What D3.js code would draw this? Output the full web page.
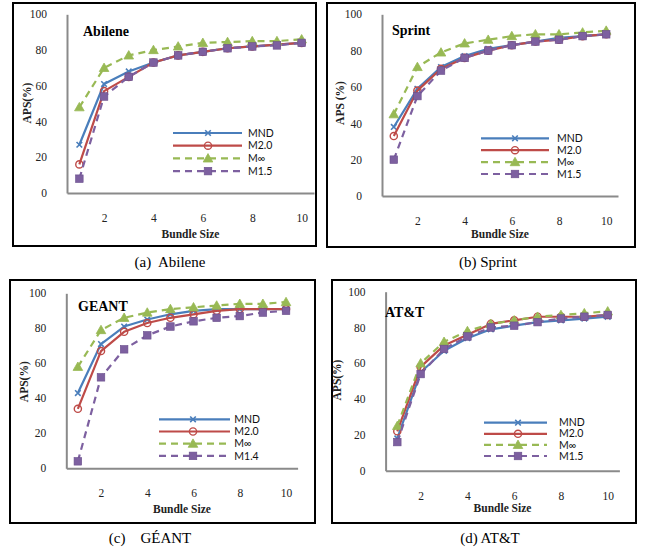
<!DOCTYPE html>
<html><head><meta charset="utf-8">
<script src="https://cdn.jsdelivr.net/npm/d3@7"></script>
<style>
html,body{margin:0;padding:0;background:#fff;}
svg{display:block;}
</style></head>
<body>
<svg id="chart" width="652" height="552"></svg>
<script>
// ---- data ----
const bundleSizes = [1,2,3,4,5,6,7,8,9,10];
const xTickLabels = [2,4,6,8,10];
const yTickLabels = [0,20,40,60,80,100];
const panelNames = ["Abilene","Sprint","GEANT","AT&T"];
const captions = ["(a)  Abilene","(b) Sprint","(c)    GÉANT","(d) AT&T"];
const seriesNamesStd = ["MND","M2.0","M\u221E","M1.5"];
const seriesNamesGeant = ["MND","M2.0","M\u221E","M1.4"];

const abileneMND  = [27,61,68,73,77,79,81,82,83,84];
const abileneM20  = [16,57,65,73,77,79,81,82,83,84];
const abileneMinf = [48,70,77,80,82,84,84.5,85,85,86];
const abileneM15  = [8,54,65,73,77,79,81,82,82.6,84];

const sprintMND  = [38,59,71,77,81,83,85,87,88,89];
const sprintM20  = [33,58,70,76,80,83,85,86,88,89];
const sprintMinf = [45,71,79,84,86,88,89,89,90,91];
const sprintM15  = [20,55,69,76,80,83,85,86,88,89];

const geantMND  = [43,71,81,85,88,90,91,91,91,91];
const geantM20  = [34,67,78,83,86,88,90,91,91,91];
const geantMinf = [58,79,86,89,91,92,93,94,94,95];
const geantM14  = [4,52,68,76,81,84,86,87,89,90];

const attMND  = [18,55,67,74,79,81,83,84,85,86];
const attM20  = [22,58,70,76,82,84,86,86,86,87];
const attMinf = [25,60,72,78,82,84,86,87,88,89];
const attM15  = [16,54,68,75,80,81,83,85,86,87];

const panelSeries = [
  [abileneMND, abileneM20, abileneMinf, abileneM15],
  [sprintMND, sprintM20, sprintMinf, sprintM15],
  [geantMND, geantM20, geantMinf, geantM14],
  [attMND, attM20, attMinf, attM15]
];
const panelLegends = [seriesNamesStd, seriesNamesStd, seriesNamesGeant, seriesNamesStd];
const yAxisTitles = ["APS(%)","APS (%)","APS(%)","APS(%)"];

// ---- layout / style ----
const layouts = [
  {frame:[13,3,303,243], xL:67, xR:314, y100:14.3, y0:193, title:[83,31], leg:{x1:173,x2:242,m:208,y:133,dy:12.7,tx:248}, yl:[27,103], xly:234, cap:[170,262]},
  {frame:[327,3,308,244], xL:382, xR:618, y100:14.3, y0:196, title:[392,30], leg:{x1:481,x2:549,m:515,y:138.3,dy:11.9,tx:557}, yl:[340,103], xly:234, cap:[488,262]},
  {frame:[10,280,305,243], xL:66.3, xR:297.6, y100:293.3, y0:468.3, title:[78,305.7], leg:{x1:159,x2:230,m:193,y:419.3,dy:12.2,tx:234.3}, yl:[24.3,381.7], xly:509.3, cap:[150,538]},
  {frame:[332,280,304,243], xL:385.6, xR:619.4, y100:291.7, y0:470.7, title:[385,312.3], leg:{x1:484,x2:547,m:518,y:422.7,dy:11.1,tx:559}, yl:[336.7,380], xly:508.3, cap:[490,538]}
];
const colors = ["#4A7EBB","#BE4B48","#98B954","#7D60A0"];
const dashes = [null,null,"7,5","7,5"];

const svg = d3.select("#chart");
const serif = "'Liberation Serif','Times New Roman',serif";
const sans = "Lato,'Liberation Sans',sans-serif";

function drawMarker(g, type, x, y, color) {
  if (type === 0) {
    const s = 2.8;
    g.append("path").attr("d", `M${x-s},${y-s}L${x+s},${y+s}M${x-s},${y+s}L${x+s},${y-s}`)
      .attr("stroke", color).attr("stroke-width", 1.6).attr("fill","none");
  } else if (type === 1) {
    g.append("circle").attr("cx", x).attr("cy", y).attr("r", 3.6)
      .attr("stroke", color).attr("stroke-width", 1.4).attr("fill","none");
  } else if (type === 2) {
    const s = 4.8;
    g.append("path").attr("d", `M${x},${y-s}L${x+s},${y+s*0.75}L${x-s},${y+s*0.75}Z`)
      .attr("fill", color).attr("stroke", color).attr("stroke-width", 0.8);
  } else {
    const s = 3.8;
    g.append("rect").attr("x", x-s).attr("y", y-s).attr("width", 2*s).attr("height", 2*s)
      .attr("fill", color).attr("stroke", "#6a4f8c").attr("stroke-width", 0.6);
  }
}

layouts.forEach((L, p) => {
  const g = svg.append("g");
  // frame
  g.append("rect").attr("x", L.frame[0]).attr("y", L.frame[1]).attr("width", L.frame[2]).attr("height", L.frame[3])
    .attr("fill","none").attr("stroke","#000").attr("stroke-width",2);

  const x = d3.scalePoint().domain(bundleSizes).range([L.xL, L.xR]).padding(0.5);
  const y = d3.scaleLinear().domain([0,100]).range([L.y0, L.y100]);

  // y axis
  const ya = g.append("g").attr("transform", `translate(${L.xL},0)`)
    .call(d3.axisLeft(y).tickValues(yTickLabels).tickSize(0).tickPadding(20));
  ya.select(".domain").attr("stroke","#8a8a8a").attr("stroke-width",2);
  ya.selectAll("text").attr("font-family", serif).attr("font-size", 11.5).attr("fill","#222");

  // x axis
  const xa = g.append("g").attr("transform", `translate(0,${L.y0})`)
    .call(d3.axisBottom(x).tickValues(xTickLabels).tickSize(0).tickPadding(21));
  xa.select(".domain").attr("stroke","#8a8a8a").attr("stroke-width",2);
  xa.selectAll("text").attr("font-family", serif).attr("font-size", 11.5).attr("fill","#222");

  // axis titles
  g.append("text").attr("x", (L.xL+L.xR)/2).attr("y", L.xly).attr("dy","0.35em")
    .attr("text-anchor","middle").attr("font-family", serif).attr("font-weight","bold")
    .attr("font-size",11.5).attr("fill","#222").text("Bundle Size");
  g.append("text").attr("transform", `translate(${L.yl[0]},${L.yl[1]}) rotate(-90)`)
    .attr("dy","0.35em").attr("text-anchor","middle").attr("font-family", serif).attr("font-weight","bold")
    .attr("font-size",11.5).attr("fill","#222").text(yAxisTitles[p]);

  // panel title
  g.append("text").attr("x", L.title[0]).attr("y", L.title[1]).attr("dy","0.35em")
    .attr("font-family", serif).attr("font-weight","bold").attr("font-size",14).attr("fill","#000")
    .text(panelNames[p]);

  // series
  const line = d3.line().x((d,i) => x(bundleSizes[i])).y(d => y(d));
  panelSeries[p].forEach((vals, s) => {
    const sg = g.append("g");
    const path = sg.append("path").attr("d", line(vals)).attr("fill","none")
      .attr("stroke", colors[s]).attr("stroke-width", 2.2).attr("stroke-linejoin","round");
    if (dashes[s]) path.attr("stroke-dasharray", dashes[s]);
    vals.forEach((v,i) => drawMarker(sg, s, x(bundleSizes[i]), y(v), colors[s]));
  });

  // legend
  panelLegends[p].forEach((name, s) => {
    const ly = L.leg.y + s*L.leg.dy;
    const lg = g.append("g");
    const ln = lg.append("line").attr("x1", L.leg.x1).attr("x2", L.leg.x2).attr("y1", ly).attr("y2", ly)
      .attr("stroke", colors[s]).attr("stroke-width", 2.2);
    if (dashes[s]) ln.attr("stroke-dasharray", dashes[s]);
    drawMarker(lg, s, L.leg.m, ly, colors[s]);
    lg.append("text").attr("x", L.leg.tx).attr("y", ly).attr("dy","0.35em")
      .attr("font-family", sans).attr("font-size", 10.5).attr("fill","#111").text(name);
  });

  // caption
  g.append("text").attr("x", L.cap[0]).attr("y", L.cap[1]).attr("dy","0.35em")
    .attr("text-anchor","middle").attr("font-family", serif).attr("font-size",15).attr("fill","#000")
    .attr("xml:space","preserve").style("white-space","pre").text(captions[p]);
});
</script>
</body></html>
